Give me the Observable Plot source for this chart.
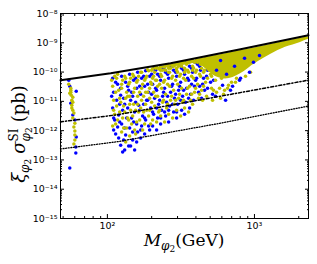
<!DOCTYPE html>
<html><head><meta charset="utf-8">
<script src="https://cdn.jsdelivr.net/npm/d3@7"></script>
<script src="https://cdn.jsdelivr.net/npm/@observablehq/plot@0.6"></script>
<style>body{margin:0;background:#fff} svg{display:block}</style>
</head><body><div id="chart"></div>
<script>
// ---- data (M in GeV, sigma in pb) ----
const bluePoints = [
[54.6,5.3e-11],[55.5,3.3e-11],[61.4,2.2e-11],[56.4,8.7e-12],[58.2,3.4e-12],[60.1,2.3e-12],[61.4,6.1e-13],[61,2.77e-13],[61,1.73e-13],[55.5,5.3e-14],
[108.6,6.15e-11],[110.3,2.05e-11],[108.6,5.9e-12],[112.1,2.3e-12],[110.3,1.05e-12],
[117.4,3.85e-11],[115.6,1.1e-11],[119.3,3.4e-12],[117.4,1.33e-12],[119.3,5.6e-13],
[125,7.2e-11],[123.1,1.62e-11],[127,5.0e-12],[125,1.68e-12],[123.1,3.2e-13],[127,1.87e-13],
[133.1,4.5e-11],[131.1,8.0e-12],[135.2,2.7e-12],[133.1,7.1e-13],[131.1,2.2e-13],
[141.7,8.4e-11],[139.5,2.4e-11],[143.9,1.1e-11],[141.7,1.23e-12],[143.9,3.0e-13],
[150.8,5.3e-11],[148.5,1.5e-11],[153.2,4.3e-12],[150.8,1.96e-12],[148.5,4.8e-13],[153.2,2.2e-13],
[160.6,9.8e-11],[158.1,2.8e-11],[163.1,7.4e-12],[160.6,9.0e-13],[158.1,4.1e-13],
[170.9,6.15e-11],[168.3,1.76e-11],[173.6,3.15e-12],[170.9,1.43e-12],[168.3,5.6e-13],
[182,1.1e-10],[179.1,3.3e-11],[184.8,1.1e-11],[182,2.3e-12],[179.1,7.7e-13],
[193.7,7.2e-11],[190.7,2.05e-11],[196.8,5.9e-12],[193.7,1.05e-12],
[206.2,1.3e-10],[203,3.85e-11],[209.5,1.28e-11],[206.2,3.65e-12],[203,1.43e-12],
[219.5,8.4e-11],[216.1,2.4e-11],[223,8.0e-12],[219.5,2.7e-12],[216.1,1.05e-12],
[233.7,1.5e-10],[230.1,5.3e-11],[237.4,1.5e-11],[233.7,5.0e-12],[230.1,1.68e-12],
[248.8,9.8e-11],[244.9,2.8e-11],[252.7,9.4e-12],[248.8,3.15e-12],
[264.9,1.7e-10],[260.8,6.15e-11],[269,2.05e-11],[264.9,6.9e-12],[260.8,1.96e-12],
[282,1.15e-10],[277.6,3.85e-11],[286.4,1.28e-11],[282,4.3e-12],
[300.2,1.92e-10],[295.5,7.2e-11],[304.9,2.4e-11],[300.2,8.0e-12],[295.5,2.7e-12],
[319.6,1.35e-10],[314.6,4.5e-11],[324.6,1.5e-11],[319.6,5.0e-12],
[340.2,2.07e-10],[334.9,8.4e-11],[345.5,2.8e-11],[340.2,9.4e-12],[334.9,3.65e-12],
[362.1,1.58e-10],[356.5,5.3e-11],[367.8,1.76e-11],[362.1,5.9e-12],
[385.5,2.3e-10],[379.5,9.8e-11],[391.5,3.3e-11],[385.5,1.1e-11],
[410.4,1.84e-10],[404,6.15e-11],[416.8,2.05e-11],
[436.8,2.5e-10],[430,1.15e-10],[443.7,3.85e-11],[436.8,1.28e-11],
[465,2.9e-10],[472.3,7.2e-11],[457.8,2.4e-11],
[495,1.84e-10],[502.8,4.5e-11],[518.8,1.76e-11],
[106.95,1.5e-11],[110.3,2.7e-12],[113.8,4.5e-11],[113.8,7.7e-13],[121.2,8.0e-12],[121.2,1.96e-12],[123.1,2.8e-11],
[129,4.8e-13],[129,1.28e-11],[131.1,1.23e-12],[137.4,3.3e-11],[137.4,5.9e-12],[139.5,3.0e-13],[146.2,2.05e-11],
[146.2,2.7e-12],[148.5,9.0e-13],[155.6,6.15e-11],[155.6,9.4e-12],[158.1,1.68e-12],[165.7,3.3e-11],[165.7,5.0e-12],
[168.3,1.05e-12],[176.4,7.2e-11],[176.4,8.0e-12],[179.1,2.7e-12],[187.8,3.85e-11],[187.8,1.1e-11],[190.7,1.43e-12],
[199.9,8.4e-11],[199.9,1.76e-11],[203,4.3e-12],[212.8,1.15e-10],[212.8,2.8e-11],[216.1,5.9e-12],[226.5,7.2e-11],
[226.5,1.1e-11],[230.1,2.7e-12],[241.1,1.35e-10],[241.1,2.05e-11],[244.9,4.3e-12],[256.7,8.4e-11],[256.7,1.5e-11],
[260.8,5.0e-12],[273.3,1.58e-10],[273.3,3.3e-11],[277.6,8.0e-12],[291,9.8e-11],[291,1.76e-11],[295.5,4.3e-12],
[309.7,1.84e-10],[309.7,3.3e-11],[314.6,1.1e-11],[329.7,1.15e-10],[329.7,2.4e-11],[351,2.15e-10],[351,6.15e-11],
[356.5,1.28e-11],[373.6,1.35e-10],[373.6,3.85e-11],[397.7,2.15e-10],[397.7,5.3e-11],[423.4,1.58e-10],[423.4,3.3e-11],
[450.7,1.84e-10],[450.7,6.15e-11],[479.8,1.15e-10],[479.8,2.8e-11],[510.8,1.58e-10],[527,5.3e-11]
];
const yellowPoints = [
[54.6,3.85e-11],[56.4,2.8e-11],[56.4,2.05e-11],[56.8,1.62e-11],[58.2,1.39e-11],[57.3,1.1e-11],[57.3,7.4e-12],[57.3,5.9e-12],
[58.2,5.0e-12],[59.2,4.0e-12],[58.2,2.7e-12],[60.1,1.8e-12],[59.2,1.33e-12],[60.1,9.7e-13],[60.1,7.1e-13],[60.1,4.8e-13],
[59.2,3.5e-13],[56.4,2.4e-11],[55.5,1.9e-11],[58.2,9.4e-12],
[112.1,7.2e-11],[108.6,3.3e-11],[110.3,1.1e-11],[112.1,3.65e-12],[108.6,1.43e-12],
[115.6,6.15e-11],[119.3,2.4e-11],[115.6,6.9e-12],[117.4,2.3e-12],
[127,5.3e-11],[125,2.8e-11],[123.1,9.4e-12],[127,2.7e-12],[125,9.0e-13],
[131.1,7.2e-11],[135.2,2.05e-11],[133.1,1.28e-11],[131.1,4.3e-12],[135.2,1.23e-12],[133.1,4.1e-13],
[143.9,6.15e-11],[139.5,3.85e-11],[141.7,1.5e-11],[143.9,5.0e-12],[139.5,2.3e-12],[141.7,6.55e-13],
[148.5,8.4e-11],[153.2,2.8e-11],[150.8,8.0e-12],[148.5,3.15e-12],[153.2,1.05e-12],
[163.1,7.2e-11],[158.1,4.5e-11],[160.6,1.5e-11],[163.1,4.3e-12],[158.1,1.96e-12],
[168.3,9.8e-11],[173.6,3.85e-11],[170.9,1.1e-11],[168.3,5.9e-12],[173.6,1.05e-12],
[184.8,7.2e-11],[179.1,5.3e-11],[182,2.05e-11],[184.8,5.0e-12],[179.1,1.68e-12],
[190.7,1.1e-10],[196.8,4.5e-11],[193.7,1.28e-11],[190.7,3.15e-12],[196.8,1.68e-12],
[209.5,9.8e-11],[203,6.15e-11],[206.2,2.05e-11],[209.5,6.9e-12],[203,2.3e-12],
[223,1.3e-10],[216.1,5.3e-11],[219.5,1.5e-11],[223,4.3e-12],[216.1,1.96e-12],
[237.4,1.15e-10],[230.1,8.4e-11],[233.7,2.8e-11],[237.4,9.4e-12],[230.1,3.15e-12],
[252.7,1.7e-10],[244.9,5.3e-11],[248.8,1.76e-11],[252.7,5.9e-12],[244.9,1.96e-12],
[269,1.35e-10],[260.8,9.8e-11],[264.9,3.3e-11],[269,1.1e-11],[260.8,3.65e-12],
[286.4,1.7e-10],[277.6,7.2e-11],[282,2.4e-11],[286.4,8.0e-12],[277.6,2.7e-12],
[304.9,1.58e-10],[295.5,1.15e-10],[300.2,3.85e-11],[304.9,1.28e-11],[295.5,5.0e-12],
[324.6,2.0e-10],[314.6,8.4e-11],[319.6,2.8e-11],[324.6,9.4e-12],[314.6,3.15e-12],
[345.5,1.84e-10],[334.9,1.35e-10],[340.2,5.3e-11],[345.5,1.76e-11],[334.9,5.9e-12],
[367.8,2.4e-10],[356.5,9.8e-11],[362.1,3.3e-11],[367.8,1.1e-11],[356.5,4.3e-12],
[391.5,2.15e-10],[379.5,1.58e-10],[385.5,6.15e-11],[391.5,2.05e-11],[379.5,8.0e-12],
[416.8,2.5e-10],[404,1.15e-10],[410.4,3.85e-11],[416.8,1.28e-11],
[443.7,1.84e-10],[430,7.2e-11],[436.8,2.4e-11],[443.7,1.1e-11],
[472.3,2.15e-10],[457.8,1.15e-10],[465,4.5e-11],[472.3,1.5e-11],
[487.3,2.5e-10],[502.8,8.4e-11],[510.8,2.8e-11],[518.8,1.1e-11],
[552.2,2.05e-11],[588,1.28e-11],[626,2.4e-11],[666,3.55e-11],[743,4.5e-11],[869,7.2e-11],[940,9.8e-11],
[203,1.3e-10],[216.1,1.5e-10],[230.1,1.5e-10],[244.9,1.5e-10],[260.8,1.7e-10],[277.6,1.77e-10],[295.5,1.92e-10],
[314.6,2.0e-10],[334.9,2.07e-10],[356.5,2.2e-10],[379.5,2.5e-10],[404,2.5e-10],[430,2.6e-10],[457.8,2.8e-10],
[487.3,2.9e-10],[518.8,3.2e-10],[430,1.84e-10],[379.5,1.15e-10],[334.9,9.8e-11],[295.5,1.35e-10],[260.8,1.35e-10],[230.1,1.15e-10],
[106.95,5.3e-11],[110.3,5.0e-12],[113.8,2.05e-11],[113.8,1.68e-12],[117.4,8.4e-11],[121.2,1.28e-11],[121.2,4.3e-12],
[125,3.85e-11],[129,6.9e-12],[129,1.23e-12],[133.1,6.15e-11],[137.4,1.5e-11],[137.4,2.7e-12],[141.7,4.5e-11],
[141.7,8.0e-12],[146.2,1.68e-12],[150.8,7.2e-11],[150.8,2.05e-11],[155.6,5.0e-12],[155.6,7.7e-13],[160.6,5.3e-11],
[160.6,8.0e-12],[165.7,2.05e-11],[165.7,2.3e-12],[170.9,9.8e-11],[170.9,2.8e-11],[176.4,1.5e-11],[176.4,4.3e-12],
[182,6.15e-11],[182,8.0e-12],[187.8,1.2e-10],[187.8,2.05e-11],[193.7,2.8e-11],[193.7,5.0e-12],[199.9,1.15e-10],
[199.9,3.85e-11],[199.9,9.4e-12],[206.2,7.2e-11],[212.8,1.35e-10],[212.8,5.3e-11],[212.8,1.5e-11],[219.5,3.3e-11],
[226.5,1.35e-10],[226.5,3.85e-11],[226.5,5.0e-12],[233.7,7.2e-11],[241.1,1.52e-10],[241.1,4.5e-11],[241.1,1.1e-11],
[248.8,1.15e-10],[256.7,1.58e-10],[256.7,3.85e-11],[256.7,8.0e-12],[264.9,9.8e-11],[273.3,1.7e-10],[273.3,6.15e-11],
[273.3,1.5e-11],[282,1.58e-10],[291,1.84e-10],[291,5.3e-11],[291,1.1e-11],[300.2,9.8e-11],[309.7,1.92e-10],
[309.7,7.2e-11],[309.7,1.76e-11],[319.6,1.58e-10],[329.7,2.07e-10],[329.7,6.15e-11],[329.7,1.1e-11],[340.2,1.15e-10],
[351,2.15e-10],[351,1.15e-10],[351,2.8e-11],[362.1,2.15e-10],[373.6,2.3e-10],[373.6,7.2e-11],[373.6,1.76e-11],
[385.5,1.35e-10],[397.7,2.4e-10],[397.7,9.8e-11],[397.7,2.8e-11],[410.4,2.15e-10],[423.4,2.6e-10],[423.4,8.4e-11],
[423.4,1.76e-11],[436.8,1.35e-10],[450.7,2.7e-10],[450.7,9.8e-11],[450.7,3.3e-11],[465,1.84e-10],[479.8,2.95e-10],
[479.8,6.15e-11],[495,1.15e-10],[510.8,3.06e-10],[510.8,7.2e-11],[527,2.15e-10],[527,2.4e-11],[543.7,1.58e-10],
[543.7,5.3e-11],[561,9.8e-11],[578.8,2.8e-11],[597.2,6.15e-11],[616.2,1.76e-11],[656,2.8e-11],[698,4.5e-11],[755,6.15e-11]
];
// blue points lying over the dense yellow band at high mass
const blueHighPoints = [
[552.2,1.15e-10],[588,2.5e-10],[607,3.55e-11],[646,8.4e-11],[687,2.4e-11],[732,1.58e-10],
[791,5.3e-11],[856,2.95e-10],[925,9.8e-11],[985,2.15e-10],[1082,3.7e-10],[636,1.1e-11],
[544,1.5e-11],[710,3.3e-11],[804,6.15e-11]
];
// dense yellow band at high mass
const bandM    = [400, 465, 544, 636, 804, 1016, 1285, 1625, 2055, 2330];
const bandLow  = [2.5e-10, 1.3e-10, 7.0e-11, 5.8e-11, 8.8e-11, 2.0e-10, 4.0e-10, 7.0e-10, 1.03e-9, 1.31e-9];
const bandHigh = [2.7e-10, 3.1e-10, 3.65e-10, 4.25e-10, 5.4e-10, 6.8e-10, 8.7e-10, 1.12e-9, 1.42e-9, 1.62e-9];
// limit curves
const solidM = [48, 105.3, 269, 804, 2330];
const solidS = [5.3e-11, 9.1e-11, 2.0e-10, 6.0e-10, 1.8e-9];
const dashdotM = [48, 117.4, 588, 2330];
const dashdotS = [2.0e-12, 3.5e-12, 1.5e-11, 5.3e-11];
const dottedM = [48, 117.4, 588, 1503, 2330];
const dottedS = [2.37e-13, 4.2e-13, 1.8e-12, 4.5e-12, 6.9e-12];
// ticks
const majorX = [100, 1000];
const minorX = [50, 60, 70, 80, 90, 200, 300, 400, 500, 600, 700, 800, 900, 2000];
const yExponents = [-15, -14, -13, -12, -11, -10, -9, -8];
const majorY = yExponents.map(e => Math.pow(10, e));
const mantissas = [2, 3, 4, 5, 6, 7, 8, 9];
const minorY = yExponents.slice(0, -1).flatMap(e => mantissas.map(m => m * Math.pow(10, e)));

const sup = {"-":"⁻","0":"⁰","1":"¹","2":"²","3":"³","4":"⁴","5":"⁵","6":"⁶","7":"⁷","8":"⁸","9":"⁹"};
const fmt = d => "10" + String(Math.round(Math.log10(d))).split("").map(c => sup[c]).join("");

const band = bandM.map((m, i) => ({m, lo: bandLow[i], hi: bandHigh[i]}));
const toXY = (M, S) => M.map((m, i) => ({m, s: S[i]}));
const YEL = "#bfbf00", BLU = "#0000ff";
const R = 1.75;

const chart = Plot.plot({
  width: 317, height: 264,
  marginLeft: 60, marginRight: 9, marginTop: 13, marginBottom: 46,
  x: {type: "log", domain: [48, 2330]},
  y: {type: "log", domain: [1e-15, 1e-8]},
  style: {fontFamily: "DejaVu Sans", fontSize: "9.5px", background: "white", color: "black"},
  marks: [
    Plot.dot(bluePoints, {x: d => d[0], y: d => d[1], r: R, fill: BLU}),
    Plot.dot(yellowPoints, {x: d => d[0], y: d => d[1], r: R, fill: YEL}),
    Plot.areaY(band, {x: "m", y1: "lo", y2: "hi", fill: YEL, curve: "monotone-x"}),
    Plot.dot(blueHighPoints, {x: d => d[0], y: d => d[1], r: R, fill: BLU}),
    Plot.line(toXY(dottedM, dottedS), {x: "m", y: "s", stroke: "black", strokeWidth: 1.3, strokeDasharray: "1,1.6"}),
    Plot.line(toXY(dashdotM, dashdotS), {x: "m", y: "s", stroke: "black", strokeWidth: 1.5, strokeDasharray: "3,2,1.2,2"}),
    Plot.line(toXY(solidM, solidS), {x: "m", y: "s", stroke: "black", strokeWidth: 2}),
    Plot.frame({stroke: "black", strokeWidth: 1}),
    // inward ticks on all four sides
    Plot.axisX({anchor: "bottom", ticks: majorX, tickSize: -4, tickFormat: () => "", label: null}),
    Plot.axisX({anchor: "bottom", ticks: minorX, tickSize: -2, tickFormat: () => "", label: null}),
    Plot.axisX({anchor: "top", ticks: majorX, tickSize: -4, tickFormat: () => "", label: null}),
    Plot.axisX({anchor: "top", ticks: minorX, tickSize: -2, tickFormat: () => "", label: null}),
    Plot.axisY({anchor: "left", ticks: majorY, tickSize: -4, tickFormat: () => "", label: null}),
    Plot.axisY({anchor: "left", ticks: minorY, tickSize: -2, tickFormat: () => "", label: null}),
    Plot.axisY({anchor: "right", ticks: majorY, tickSize: -4, tickFormat: () => "", label: null}),
    Plot.axisY({anchor: "right", ticks: minorY, tickSize: -2, tickFormat: () => "", label: null}),
    // tick labels
    Plot.axisX({anchor: "bottom", ticks: majorX, tickSize: 0, tickPadding: 4, tickFormat: fmt, label: null}),
    Plot.axisY({anchor: "left", ticks: majorY, tickSize: 0, tickPadding: 3, tickFormat: fmt, label: null})
  ]
});
document.getElementById("chart").appendChild(chart);

// math-style axis titles
function mathLabel(pieces, cx, cy, rotate) {
  const g = d3.select(chart).append("g").attr("transform", `translate(${cx},${cy}) rotate(${rotate})`);
  const inner = g.append("g");
  function place(list, x0) {
    let x = x0;
    for (const p of list) {
      if (p.gap) { x += p.gap; continue; }
      if (p.stack) { const ends = p.stack.map(l => place(l, x)); x = Math.max(...ends); continue; }
      const t = inner.append("text").attr("x", x).attr("y", p.dy || 0)
        .attr("text-anchor", "start")
        .attr("font-family", "DejaVu Serif").attr("font-size", p.size)
        .attr("font-style", p.italic ? "italic" : "normal").attr("fill", "black").text(p.t);
      x += t.node().getComputedTextLength();
    }
    return x;
  }
  const w = place(pieces, 0);
  inner.attr("transform", `translate(${-w / 2},0)`);
}
const F = 17, S = 12, SS = 9;
mathLabel([
  {t: "M", size: F, italic: true},
  {t: "φ", size: S, italic: true, dy: 4}, {t: "2", size: SS, dy: 6},
  {t: "(GeV)", size: F}
], 184, 246, 0);
const FY = 18;
mathLabel([
  {t: "ξ", size: FY, italic: true},
  {t: "φ", size: S, italic: true, dy: 4}, {t: "2", size: SS, dy: 6},
  {gap: 5},
  {t: "σ", size: FY, italic: true},
  {stack: [[{t: "SI", size: S, dy: -7}], [{t: "φ", size: S, italic: true, dy: 5}, {t: "2", size: SS, dy: 7}]]},
  {gap: 5},
  {t: "(pb)", size: FY}
], 25, 134, -90);
</script></body></html>
